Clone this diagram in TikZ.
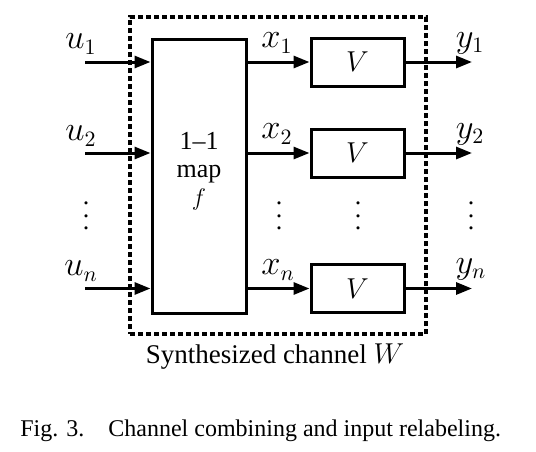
\documentclass[tikz,border=0pt]{standalone}
\usepackage{fontspec}
\setmainfont{Liberation Serif}
\usetikzlibrary{arrows.meta}
\newcommand\myvd{\vbox{\baselineskip6.25pt\lineskiplimit0pt\hbox{.}\hbox{.}\hbox{.}}}
\begin{document}
\begin{tikzpicture}[x=0.5pt,y=-0.5pt,
  blk/.style={draw,line width=1.5pt,inner sep=0pt},
  vbox/.style={blk,minimum width=46.5pt,minimum height=24pt,font=\fontsize{15}{17}\selectfont},
  sig/.style={line width=1.5pt,-{Triangle[length=8pt,width=6pt]}},
  lbl/.style={inner sep=0pt,font=\fontsize{16}{18}\selectfont},
  txt/.style={inner sep=0pt,font=\fontsize{13.5}{15}\selectfont},
  dts/.style={inner sep=0pt,font=\fontsize{13}{14}\selectfont}]
\useasboundingbox (0,0) rectangle (536,451);
\node[draw,line width=2pt,dash pattern=on 2.5pt off 1.5pt,minimum width=148pt,minimum height=158.5pt,inner sep=0pt] (W) at (278,175.5) {};
\node[blk,minimum width=47pt,minimum height=137pt] (map) at (199,176) {};
\node[inner sep=0pt,align=center,font=\fontsize{13}{14}\selectfont] (maptxt) at (199,171) {1--1\\map\\$f$};
\node[vbox] (V1) at (357.5,62) {$V$};
\node[vbox] (V2) at (357.5,153) {$V$};
\node[vbox] (V3) at (357.5,288.5) {$V$};
\coordinate (in1) at (85,62);
\coordinate (in2) at (85,153);
\coordinate (in3) at (85,288.5);
\coordinate (out1) at (472,62);
\coordinate (out2) at (472,153);
\coordinate (out3) at (472,288.5);
\draw[sig] (in1) -- (map.west |- in1);
\draw[sig] (in2) -- (map.west |- in2);
\draw[sig] (in3) -- (map.west |- in3);
\draw[sig] (map.east |- V1.west) -- (V1.west);
\draw[sig] (map.east |- V2.west) -- (V2.west);
\draw[sig] (map.east |- V3.west) -- (V3.west);
\draw[sig] (V1.east) -- (out1);
\draw[sig] (V2.east) -- (out2);
\draw[sig] (V3.east) -- (out3);
\node[lbl] (u1) at (81,44) {$u_1$};
\node[lbl] (u2) at (81,136) {$u_2$};
\node[lbl] (un) at (81,271) {$u_n$};
\node[lbl] (x1) at (277,43) {$x_1$};
\node[lbl] (x2) at (277,134) {$x_2$};
\node[lbl] (xn) at (278,270) {$x_n$};
\node[lbl] (y1) at (470,43) {$y_1$};
\node[lbl] (y2) at (470,134) {$y_2$};
\node[lbl] (yn) at (471,269) {$y_n$};
\node[dts] (d1) at (86,216) {\myvd};
\node[dts] (d2) at (279,216) {\myvd};
\node[dts] (d3) at (358,216) {\myvd};
\node[dts] (d4) at (471,216) {\myvd};
\node[txt,anchor=base] (cap1) at (275,363) {Synthesized channel $W$};
\node[inner sep=0pt,font=\fontsize{12}{14}\selectfont,anchor=base west] (cap2) at (20,436) {Fig. 3.\quad Channel combining and input relabeling.};
\end{tikzpicture}
\end{document}
